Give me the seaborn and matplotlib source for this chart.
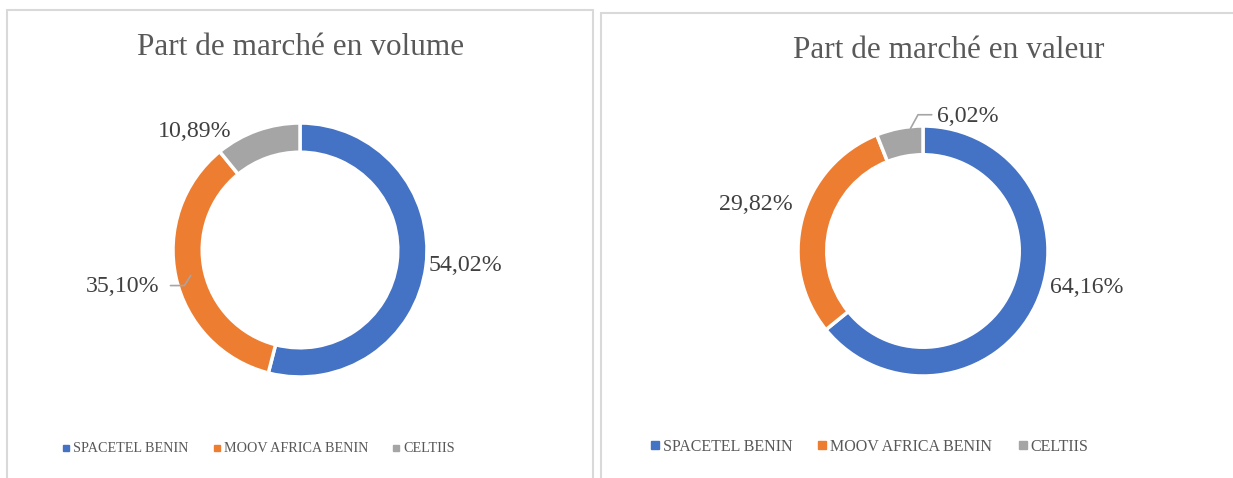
"""Two donut charts: market share in volume and in value."""
import matplotlib
matplotlib.use("Agg")
import matplotlib.pyplot as plt
from matplotlib.patches import Rectangle
from matplotlib.lines import Line2D
import seaborn as sns

# Data
operators = ["SPACETEL BENIN", "MOOV AFRICA BENIN", "CELTIIS"]
share_volume = [54.02, 35.10, 10.89]
share_value = [64.16, 29.82, 6.02]
titles = ["Part de marché en volume", "Part de marché en valeur"]

sns.set_theme(style="white")
plt.rcParams["font.family"] = ["Liberation Serif", "DejaVu Serif"]
colors = ["#4472C4", "#ED7D31", "#A5A5A5"]

W, H = 1233, 478
fig = plt.figure(figsize=(W / 100, H / 100), dpi=100)
fig.patch.set_facecolor("white")

# panel borders (pixel coords, y from top)
for x0, y0, x1 in [(7, 10, 593), (601, 13, 1245)]:
    fig.patches.append(Rectangle((x0 / W, -0.05), (x1 - x0) / W, 1.05 - y0 / H,
                                 transform=fig.transFigure, fill=False,
                                 edgecolor="#D9D9D9", lw=1.5))


def make_ax(cx, cy, R, lim=1.6):
    side = 2 * R * lim
    return fig.add_axes([(cx - side / 2) / W, 1 - (cy + side / 2) / H, side / W, side / H])


def fmt(v):
    return f"{v:.2f}".replace(".", ",") + "%"


def donut(ax, values, label_pos, leader=None):
    ax.pie(values, colors=colors, startangle=90, counterclock=False, radius=1,
           wedgeprops=dict(width=0.23, edgecolor="white", linewidth=2.5))
    ax.set_xlim(-1.6, 1.6)
    ax.set_ylim(-1.6, 1.6)
    ax.set_aspect("equal")
    ax.axis("off")
    for v, (x, y) in zip(values, label_pos):
        ax.text(x, y, fmt(v), ha="center", va="center", fontsize=17.2,
                color="#404040", clip_on=False)
    if leader is not None:
        xs, ys = zip(*leader)
        ax.plot(xs, ys, color="#A5A5A5", lw=1.2, clip_on=False)


# left chart: center (300, 250), R 127 px
ax1 = make_ax(300, 250, 127)
donut(ax1, share_volume, [(1.30, -0.12), (-1.40, -0.29), (-0.83, 0.93)],
      leader=[(-1.02, -0.28), (-0.91, -0.28), (-0.86, -0.20)])
# right chart: center (923, 251), R 125 px
ax2 = make_ax(923, 251, 125)
donut(ax2, share_value, [(1.31, -0.29), (-1.34, 0.37), (0.36, 1.08)],
      leader=[(0.07, 1.09), (-0.04, 1.09), (-0.10, 0.98)])

fig.text(301 / W, 1 - 47 / H, titles[0], ha="center", va="center",
         fontsize=22.5, color="#595959")
fig.text(949 / W, 1 - 50 / H, titles[1], ha="center", va="center",
         fontsize=22.5, color="#595959")

# legends
def legend(cx, cy, fs, ms, sp):
    handles = [Line2D([], [], marker="s", ls="", color=c, markersize=ms) for c in colors]
    fig.legend(handles, operators, loc="center", bbox_to_anchor=(cx / W, 1 - cy / H),
               ncol=3, frameon=False, fontsize=fs, handlelength=0.4,
               handletextpad=0.3, columnspacing=sp, labelcolor="#595959")


legend(259, 449, 10.2, 4, 1.8)
legend(870, 447, 11.5, 5.5, 1.7)

fig.savefig("out.png", dpi=100, facecolor="white")
